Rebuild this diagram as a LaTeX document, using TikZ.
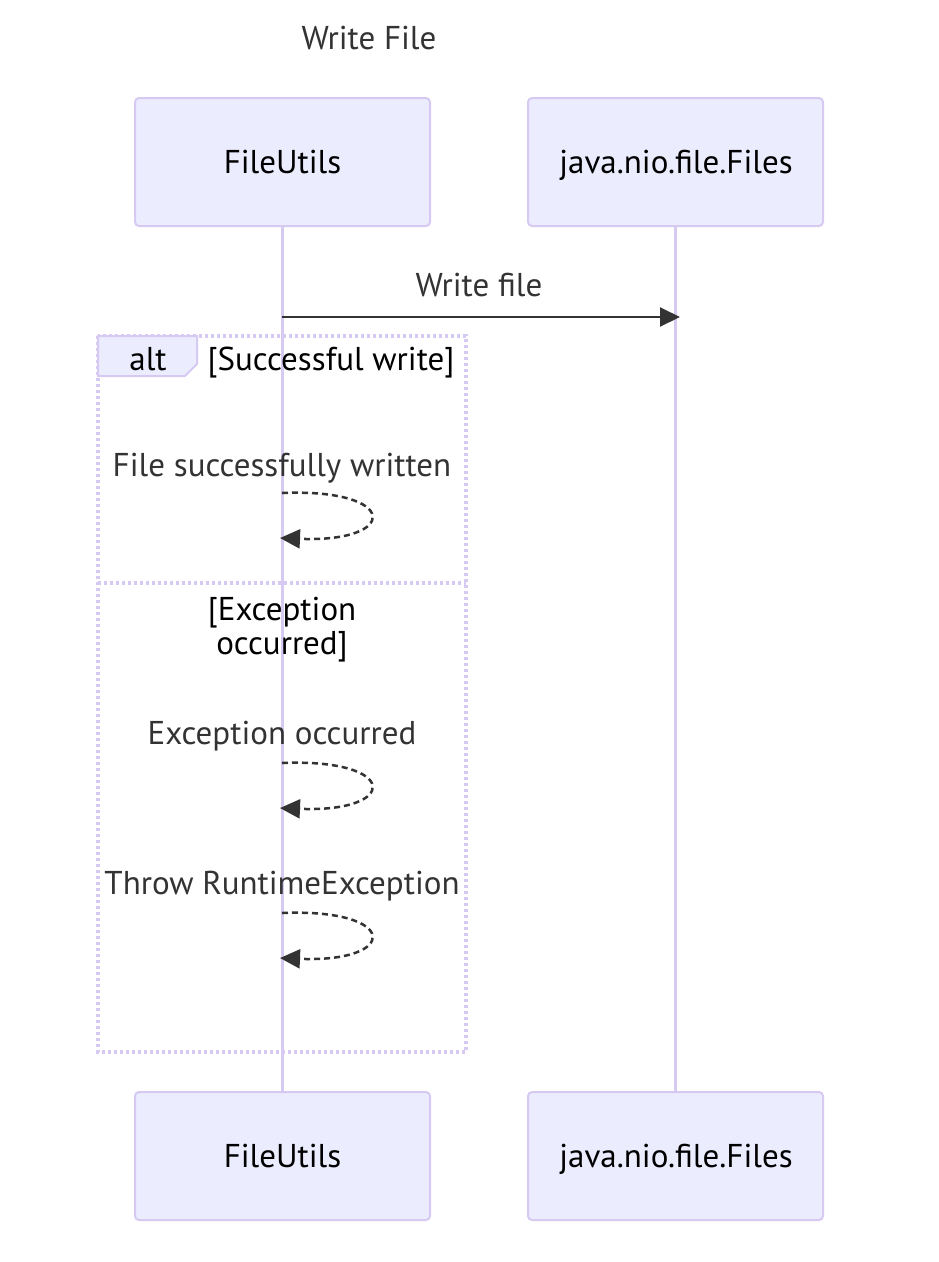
\documentclass[tikz,border=0pt]{standalone}
\usepackage{fontspec}
\setmainfont{PT Sans}
\usetikzlibrary{arrows.meta}
\definecolor{actfill}{HTML}{ECECFF}
\definecolor{actline}{HTML}{D6CAF3}
\definecolor{txt}{HTML}{333333}
\tikzset{
  actor/.style={draw=actline, fill=actfill, line width=2pt, rounded corners=4pt,
    minimum width=295pt, minimum height=128pt, inner sep=0pt},
  actortxt/.style={text=black, font=\fontsize{33}{34}\selectfont, inner sep=0pt, anchor=base},
  lifeline/.style={draw=actline, line width=3pt},
  msg/.style={draw=txt, line width=2pt, -{Triangle[length=20pt,width=19pt]}},
  reply/.style={draw=txt, line width=2.5pt, dash pattern=on 6pt off 4pt, -{Triangle[length=20pt,width=19pt]}},
  msgtxt/.style={text=txt, font=\fontsize{33}{34}\selectfont, inner sep=0pt, anchor=base},
  frametxt/.style={text=black, font=\fontsize{33}{34}\selectfont, inner sep=0pt, anchor=base},
  framebox/.style={draw=actline, line width=3.2pt, dash pattern=on 3pt off 3pt},
}
\begin{document}
\begin{tikzpicture}[x=1pt,y=-1pt]
\useasboundingbox (0,0) rectangle (938,1262);
% title
\node[msgtxt] (title) at (369,49.5) {Write File};
% actors
\node[actor] (fu1) at (282.5,162) {};
\node[actor] (jf1) at (675.5,162) {};
\node[actor] (fu2) at (282.5,1156) {};
\node[actor] (jf2) at (675.5,1156) {};
\node[actortxt] (fu1t) at (282.5,173.5) {FileUtils};
\node[actortxt] (jf1t) at (676,173.5) {java.nio.file.Files};
\node[actortxt] (fu2t) at (282.5,1167.5) {FileUtils};
\node[actortxt] (jf2t) at (676,1167.5) {java.nio.file.Files};
% lifelines
\draw[lifeline] (fu1.south) -- (fu2.north);
\draw[lifeline] (jf1.south) -- (jf2.north);
% alt frame
\draw[framebox] (98,336) rectangle (466,1052);
\draw[framebox] (98,583) -- (466,583);
\draw[draw=actline, fill=actfill, line width=2pt] (98,336) -- (197,336) -- (197,364) -- (185,376) -- (98,376) -- cycle;
\node[frametxt] (altlbl) at (148,370) {alt};
\node[frametxt] (cond1) at (331,370) {[Successful write]};
\node[frametxt] (cond2a) at (282,620) {[Exception};
\node[frametxt] (cond2b) at (282,654) {occurred]};
% message 1
\node[msgtxt] (m1) at (479,296) {Write file};
\coordinate (m1s) at (282,317);
\coordinate (m1e) at (680,317);
\draw[msg] (m1s) -- (m1e);
% self messages
\node[msgtxt] (s1) at (282,476) {File successfully written};
\coordinate (s1a) at (282,493);
\coordinate (s1b) at (280,538);
\draw[reply] (s1a) .. controls (400,488) and (400,543) .. (s1b);
\node[msgtxt] (s2) at (282,744) {Exception occurred};
\coordinate (s2a) at (282,763);
\coordinate (s2b) at (280,808);
\draw[reply] (s2a) .. controls (400,758) and (400,813) .. (s2b);
\node[msgtxt] (s3) at (282,894) {Throw RuntimeException};
\coordinate (s3a) at (282,913);
\coordinate (s3b) at (280,958);
\draw[reply] (s3a) .. controls (400,908) and (400,963) .. (s3b);
\end{tikzpicture}
\end{document}
